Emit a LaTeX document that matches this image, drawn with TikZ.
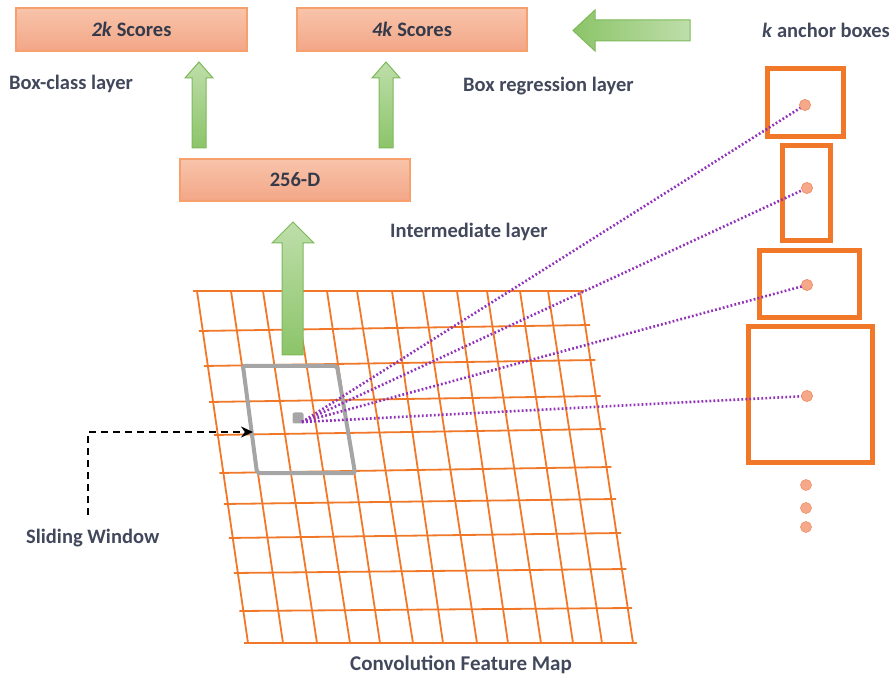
\documentclass[tikz,border=0pt]{standalone}
\usepackage{fontspec}
\setmainfont{Carlito}
\usetikzlibrary{arrows.meta}
\definecolor{gridor}{RGB}{240,120,40}
\definecolor{boxfillA}{RGB}{248,196,170}
\definecolor{boxfillB}{RGB}{243,166,135}
\definecolor{boxline}{RGB}{246,160,110}
\definecolor{greenA}{RGB}{190,222,170}
\definecolor{greenB}{RGB}{140,196,105}
\definecolor{greenline}{RGB}{125,185,90}
\definecolor{labelc}{RGB}{66,72,92}
\definecolor{purp}{RGB}{145,50,185}
\definecolor{dotfill}{RGB}{245,168,138}
\definecolor{dotline}{RGB}{240,145,105}
\definecolor{wingray}{RGB}{165,165,165}
\tikzset{
  scorebox/.style={draw=boxline, line width=1.2pt, top color=boxfillA, bottom color=boxfillB,
     minimum height=43pt, inner sep=0pt, font=\fontsize{20.5}{24}\selectfont\bfseries, text=labelc!80!black},
  lbl/.style={font=\fontsize{20.5}{24}\selectfont\bfseries, text=labelc, inner sep=0pt, anchor=west},
  garrow/.style={draw=greenline, line width=1pt, top color=greenA, bottom color=greenB},
  gridline/.style={draw=gridor, line width=1.8pt},
  anchorbox/.style={draw=gridor, line width=5pt},
  adot/.style={circle, fill=dotfill, draw=dotline, line width=0.6pt, minimum size=11pt, inner sep=0pt},
  pline/.style={draw=purp, line width=2.6pt, dash pattern=on 1.8pt off 2.2pt},
}
\begin{document}
\begin{tikzpicture}[x=1pt,y=-1pt]
\useasboundingbox (0,0) rectangle (895,676);
% score boxes
\node[scorebox, minimum width=231pt] (s2) at (131.5,29.5) {\textit{2k} Scores};
\node[scorebox, minimum width=230pt] (s4) at (412,29.5) {\textit{4k} Scores};
\node[scorebox, minimum width=230pt, minimum height=42pt] (d256) at (295,180) {256-D};
% labels
\node[lbl] (lbc) at (9,84) {Box-class layer};
\node[lbl] (lbr) at (463,86) {Box regression layer};
\node[lbl] (lim) at (390,232) {Intermediate layer};
\node[lbl] (lka) at (762,30) {\textit{k} anchor boxes};
\node[lbl] (lsw) at (26,538) {Sliding Window};
\node[lbl, anchor=center, font=\fontsize{21}{25}\selectfont\bfseries] (lcf) at (461,665) {Convolution Feature Map};
% green arrows
\path[garrow] (192,148)--(192,78)--(185,78)--(199,62)--(213,78)--(206,78)--(206,148)--cycle;
\path[garrow] (379,148)--(379,78)--(372,78)--(386,62)--(400,78)--(393,78)--(393,148)--cycle;
\path[garrow, left color=greenB, right color=greenA] (690,20)--(595,20)--(595,10)--(573,30.5)--(595,51)--(595,41)--(690,41)--cycle;
% grid
\foreach \t/\b in {197/248,231/283,263/317,295/350,327/380,357/413,392/443,423/477,457/508,487/541,520/573,548/602,580/633}
  \draw[gridline] (\t,291) -- (\b,643);
\foreach \y/\d in {291/0,331/6,366/6,402/6,435/6,473/6,504/5,538/5,573/4,611/3,643/0}
  \draw[gridline] ({197+0.1449*(\y-291)-4},\y) -- ({580+0.1506*(\y-291)+4},{\y-\d});
% big green arrow (drawn over grid)
\path[garrow] (282,355)--(282,243)--(272,243)--(293,222)--(314,243)--(303,243)--(303,355)--cycle;
% sliding window
\draw[wingray, line width=4pt, rounded corners=2pt] (243,366)--(337,366)--(355,473)--(257,473)--cycle;
\node[fill=gray!70, rounded corners=2pt, minimum size=11pt, inner sep=0pt] (wsq) at (298,418) {};
\coordinate (wc) at (302,422);
% anchor boxes
\draw[anchorbox] (767.5,68.5) rectangle (843.5,136.5);
\draw[anchorbox] (782.5,145.5) rectangle (830.5,240.5);
\draw[anchorbox] (759.5,250.5) rectangle (859.5,317.5);
\draw[anchorbox] (748.5,326.5) rectangle (872.5,462.5);
\node[adot] (a1) at (805,105) {};
\node[adot] (a2) at (807,188) {};
\node[adot] (a3) at (807,285) {};
\node[adot] (a4) at (807,396) {};
\foreach \n in {a1,a2,a3,a4}
  \draw[pline] (wc) -- (\n.center);
\foreach \n in {a1,a2,a3,a4}
  \node[adot] at (\n) {};
\node[adot] (e1) at (806,485) {};
\node[adot] (e2) at (806,508) {};
\node[adot] (e3) at (806,527) {};
% dashed arrow
\coordinate (dstart) at (88,515);
\coordinate (dbend) at (88,432);
\coordinate (dend) at (253,432);
\draw[black, line width=2.2pt, dash pattern=on 7pt off 5pt, -{Stealth[length=12pt,width=11pt]}] (dstart) -- (dbend) -- (dend);
\end{tikzpicture}
\end{document}
